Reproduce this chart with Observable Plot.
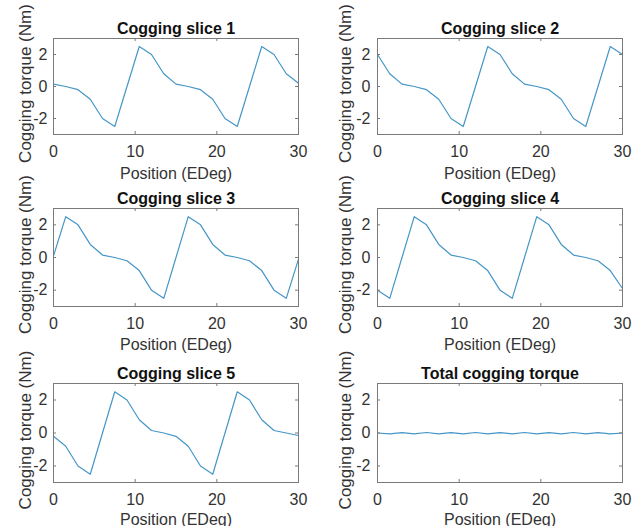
<!DOCTYPE html>
<html><head><meta charset="utf-8">
<script src="https://cdn.jsdelivr.net/npm/d3@7"></script>
<script src="https://cdn.jsdelivr.net/npm/@observablehq/plot@0.6"></script>
<style>
body{margin:0;background:#fff;}
#wrap{position:relative;width:641px;height:526px;overflow:hidden;background:#fff;}
#wrap svg{position:absolute;overflow:visible;}
</style></head><body><div id="wrap"></div>
<script>
// Position samples (EDeg)
const position = [0,1.5,3,4.5,6,7.5,9,10.5,12,13.5,15,16.5,18,19.5,21,22.5,24,25.5,27,28.5,30];
// Cogging torque per slice (Nm)
const slice1 = [0.15,0,-0.2,-0.8,-2.0,-2.5,0,2.5,2.0,0.8,0.15,0,-0.2,-0.8,-2.0,-2.5,0,2.5,2.0,0.8,0.2];
const slice2 = [2.0,0.8,0.15,0,-0.2,-0.8,-2.0,-2.5,0,2.5,2.0,0.8,0.15,0,-0.2,-0.8,-2.0,-2.5,0,2.5,2.0];
const slice3 = [0.1,2.5,2.0,0.8,0.15,0,-0.2,-0.8,-2.0,-2.5,0,2.5,2.0,0.8,0.15,0,-0.2,-0.8,-2.0,-2.5,-0.1];
const slice4 = [-2.0,-2.5,0,2.5,2.0,0.8,0.15,0,-0.2,-0.8,-2.0,-2.5,0,2.5,2.0,0.8,0.15,0,-0.2,-0.8,-1.9];
const slice5 = [-0.2,-0.8,-2.0,-2.5,0,2.5,2.0,0.8,0.15,0,-0.2,-0.8,-2.0,-2.5,0,2.5,2.0,0.8,0.15,0,-0.15];
const total  = [0,-0.05,0.02,-0.05,0.03,-0.05,0.02,-0.05,0.03,-0.05,0.02,-0.05,0.03,-0.05,0.02,-0.05,0.03,-0.05,0.02,-0.05,0];
const titles = ["Cogging slice 1","Cogging slice 2","Cogging slice 3","Cogging slice 4","Cogging slice 5","Total cogging torque"];
const series = [slice1, slice2, slice3, slice4, slice5, total];
const xTicks = [0,10,20,30];
const yTicks = [-2,0,2];
const xLabel = "Position (EDeg)";
const yLabel = "Cogging torque (Nm)";

const FONT = "'Liberation Sans', Arial, sans-serif";
const LINE = "#4596c6";
const AXIS = "#7a7a7a";
const TEXT = "#333333";

// layout of the 3x2 grid
const cols = [
  {left: 0, width: 320, mL: 53, mR: 22, yPad: 6, yDx: -28},
  {left: 320, width: 321, mL: 57, mR: 19, yPad: 7, yDx: -32}
];
const rows = [
  {top: 0, height: 180, mT: 38, mB: 46, xDy: 44},
  {top: 180, height: 172, mT: 28, mB: 46, xDy: 43},
  {top: 352, height: 174, mT: 31, mB: 44, xDy: 42}
];

const wrap = document.getElementById("wrap");
series.forEach((vals, k) => {
  const c = cols[k % 2], r = rows[Math.floor(k / 2)];
  const fw = c.width - c.mL - c.mR, fh = r.height - r.mT - r.mB;
  const data = position.map((x, i) => ({x, y: vals[i]}));
  const chart = Plot.plot({
    width: c.width, height: r.height,
    marginLeft: c.mL, marginRight: c.mR, marginTop: r.mT, marginBottom: r.mB,
    style: {fontFamily: FONT, fontSize: "16px", color: TEXT, background: "transparent", overflow: "visible"},
    x: {domain: [0, 30], axis: null},
    y: {domain: [-3, 3], axis: null},
    marks: [
      Plot.line(data, {x: "x", y: "y", stroke: LINE, strokeWidth: 1.2}),
      Plot.frame({stroke: AXIS, strokeWidth: 1}),
      Plot.tickX(xTicks, {x: d => d, stroke: AXIS, insetTop: fh - 3}),
      Plot.tickX(xTicks, {x: d => d, stroke: AXIS, insetBottom: fh - 3}),
      Plot.tickY(yTicks, {y: d => d, stroke: AXIS, insetRight: fw - 3}),
      Plot.tickY(yTicks, {y: d => d, stroke: AXIS, insetLeft: fw - 3}),
      Plot.axisX({ticks: xTicks, tickSize: 0, tickPadding: 11, fontSize: 16, tickFormat: d => String(d), label: null}),
      Plot.axisY({ticks: yTicks, tickSize: 0, tickPadding: c.yPad, fontSize: 16, tickFormat: d => String(d), label: null}),
      Plot.text([titles[k]], {text: d => d, frameAnchor: "top", lineAnchor: "bottom", dy: -5, fontWeight: "bold", fontSize: 16, fill: "#111"}),
      Plot.text([xLabel], {text: d => d, frameAnchor: "bottom", lineAnchor: "bottom", dy: r.xDy, fontSize: 16, fill: TEXT}),
      Plot.text([yLabel], {text: d => d, frameAnchor: "left", textAnchor: "middle", lineAnchor: "middle", rotate: -90, dx: c.yDx, dy: -3, fontSize: 17, fill: TEXT})
    ]
  });
  chart.style.left = c.left + "px";
  chart.style.top = r.top + "px";
  wrap.appendChild(chart);
});
</script></body></html>
